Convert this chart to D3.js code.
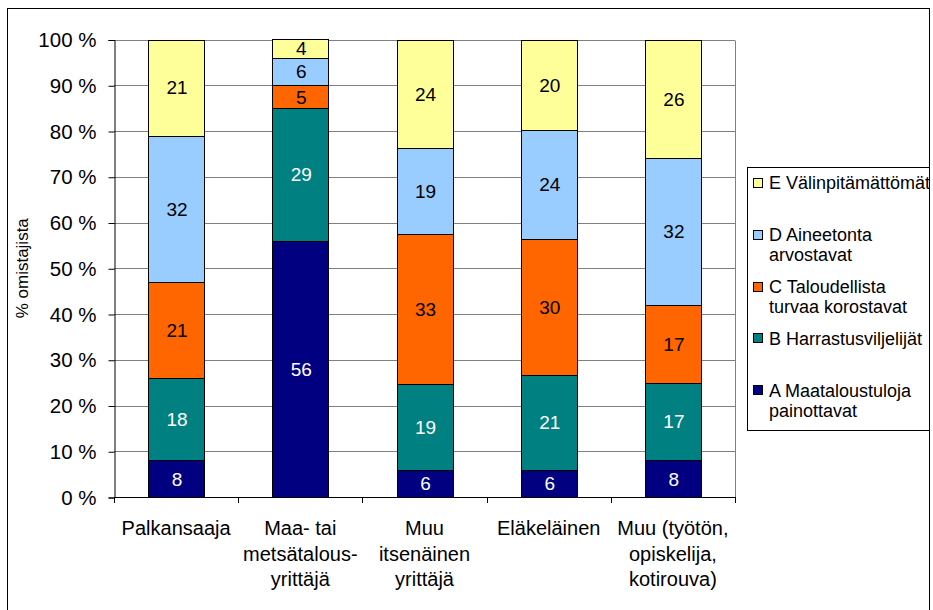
<!DOCTYPE html>
<html><head><meta charset="utf-8">
<script src="https://cdn.jsdelivr.net/npm/d3@7"></script>
<style>
html,body{margin:0;padding:0;background:#fff;}
svg{display:block;font-family:"Liberation Sans",Arial,sans-serif;}
</style></head>
<body>
<svg id="chart" width="933" height="610"></svg>
<script>
// ---- data ----
const categories = [
  ["Palkansaaja"],
  ["Maa- tai", "metsätalous-", "yrittäjä"],
  ["Muu", "itsenäinen", "yrittäjä"],
  ["Eläkeläinen"],
  ["Muu (työtön,", "opiskelija,", "kotirouva)"]
];
const seriesKeys = ["A", "B", "C", "D", "E"];
const seriesNames = [
  ["A Maataloustuloja", "painottavat"],
  ["B Harrastusviljelijät"],
  ["C Taloudellista", "turvaa korostavat"],
  ["D Aineetonta", "arvostavat"],
  ["E Välinpitämättömät"]
];
const seriesA = [8, 56, 6, 6, 8];
const seriesB = [18, 29, 19, 21, 17];
const seriesC = [21, 5, 33, 30, 17];
const seriesD = [32, 6, 19, 24, 32];
const seriesE = [21, 4, 24, 20, 26];
const yTicks = [0, 10, 20, 30, 40, 50, 60, 70, 80, 90, 100];
const yTitle = "% omistajista";

const colors = ["#000080", "#008080", "#FF6600", "#99CCFF", "#FFFF99"];
const labelColors = ["#fff", "#fff", "#000", "#000", "#000"];

// ---- build table ----
const seriesVals = [seriesA, seriesB, seriesC, seriesD, seriesE];
const table = categories.map((c, i) => {
  const row = {idx: i};
  seriesKeys.forEach((k, j) => row[k] = seriesVals[j][i]);
  return row;
});
const stacked = d3.stack().keys(seriesKeys).offset(d3.stackOffsetExpand)(table);

const svg = d3.select("#chart");
const plot = {left: 114, right: 735, top: 39.5, bottom: 497};

// outer border
svg.append("rect").attr("x", 7.5).attr("y", 8.5).attr("width", 922).attr("height", 610)
  .attr("fill", "#fff").attr("stroke", "#000").attr("stroke-width", 1);

const x = d3.scaleBand().domain(d3.range(categories.length))
  .range([plot.left, plot.right]).paddingInner(0.55).paddingOuter(0.275);
const y = d3.scaleLinear().domain([0, 1]).range([plot.bottom, plot.top]);

// gridlines
svg.append("g").selectAll("line").data(yTicks).join("line")
  .attr("x1", plot.left).attr("x2", plot.right)
  .attr("y1", d => Math.round(y(d / 100)) + 0.5).attr("y2", d => Math.round(y(d / 100)) + 0.5)
  .attr("stroke", "#808080").attr("stroke-width", 1);
// plot right border
svg.append("line").attr("x1", plot.right + 0.5).attr("x2", plot.right + 0.5)
  .attr("y1", Math.round(y(1)) + 0.5).attr("y2", Math.round(y(0)) + 0.5)
  .attr("stroke", "#808080");

// bars
const g = svg.append("g");
stacked.forEach((s, j) => {
  g.append("g").selectAll("rect").data(s).join("rect")
    .attr("x", (d, i) => Math.round(x(i)) + 0.5)
    .attr("width", Math.round(x.bandwidth()))
    .attr("y", d => Math.round(y(d[1])) + 0.5)
    .attr("height", d => Math.round(y(d[0])) - Math.round(y(d[1])))
    .attr("fill", colors[j]).attr("stroke", "#000").attr("stroke-width", 1);
});
// labels
stacked.forEach((s, j) => {
  g.append("g").selectAll("text").data(s).join("text")
    .attr("x", (d, i) => x(i) + x.bandwidth() / 2 + 1)
    .attr("y", d => (y(d[0]) + y(d[1])) / 2)
    .attr("dy", "0.36em")
    .attr("text-anchor", "middle")
    .attr("font-size", 19)
    .attr("fill", labelColors[j])
    .text((d, i) => seriesVals[j][i]);
});

// y axis
const yAxis = d3.axisLeft(y).tickValues(yTicks.map(t => t / 100))
  .tickFormat(d => Math.round(d * 100) + " %").tickSize(6).tickPadding(12);
const ya = svg.append("g").attr("transform", `translate(${plot.left + 0.5},0.5)`).call(yAxis);
ya.select(".domain").attr("stroke", "#000");
ya.selectAll(".tick line").attr("stroke", "#000");
ya.selectAll(".tick text").attr("font-size", 20.5).attr("fill", "#000")
  .attr("font-family", "Liberation Sans, Arial, sans-serif");

// x axis
const step = x.step();
const bounds = d3.range(categories.length + 1).map(i => plot.left + i * step);
svg.append("line").attr("x1", plot.left).attr("x2", plot.right + 1)
  .attr("y1", Math.round(plot.bottom) + 0.5).attr("y2", Math.round(plot.bottom) + 0.5)
  .attr("stroke", "#000");
svg.append("g").selectAll("line").data(bounds).join("line")
  .attr("x1", d => Math.round(d) + 0.5).attr("x2", d => Math.round(d) + 0.5)
  .attr("y1", Math.round(plot.bottom)).attr("y2", Math.round(plot.bottom) + 6)
  .attr("stroke", "#000");
const cl = svg.append("g");
categories.forEach((lines, i) => {
  const t = cl.append("text").attr("text-anchor", "middle").attr("font-size", 20).attr("fill", "#000");
  lines.forEach((ln, k) => {
    t.append("tspan").attr("x", x(i) + x.bandwidth() / 2).attr("y", 535 + k * 25.5).text(ln);
  });
});

// y title
svg.append("text").attr("transform", `translate(28,${(plot.top + plot.bottom) / 2}) rotate(-90)`)
  .attr("text-anchor", "middle").attr("font-size", 17).attr("fill", "#000").text(yTitle);

// legend
const lg = svg.append("g");
lg.append("clipPath").attr("id", "lgclip").append("rect")
  .attr("x", 747).attr("y", 167).attr("width", 183).attr("height", 263);
lg.append("rect").attr("x", 747.5).attr("y", 167.5).attr("width", 182).attr("height", 263)
  .attr("fill", "#fff").attr("stroke", "#000");
const order = [4, 3, 2, 1, 0];
order.forEach((sIdx, r) => {
  const cy = 183 + r * 51.8;
  lg.append("rect").attr("x", 753.5).attr("y", Math.round(cy - 5) + 0.5).attr("width", 9).attr("height", 9)
    .attr("fill", colors[sIdx]).attr("stroke", "#000");
  const t = lg.append("text").attr("font-size", 18).attr("fill", "#000").attr("clip-path", "url(#lgclip)");
  seriesNames[sIdx].forEach((ln, k) => {
    t.append("tspan").attr("x", 769).attr("y", cy + k * 20).attr("dy", "0.36em").text(ln);
  });
});
</script>
</body></html>
